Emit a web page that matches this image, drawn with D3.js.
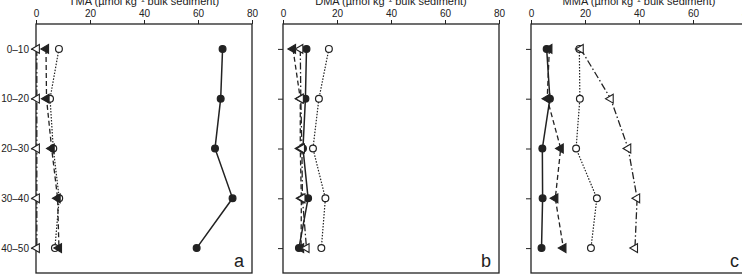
<!DOCTYPE html>
<html>
<head>
<meta charset="utf-8">
<script src="https://cdn.jsdelivr.net/npm/d3@7"></script>
<style>
  body { margin: 0; background: #fff; }
  text { font-family: "Liberation Sans", Arial, sans-serif; fill: #222; }
</style>
</head>
<body>
<script>
// depth intervals (cm)
const depths = ['0–10', '10–20', '20–30', '30–40', '40–50'];
const xTicks = [0, 20, 40, 60, 80];

// TMA
const tmaCircleFilled = [69.1, 68.4, 66.3, 72.8, 59.5];
const tmaCircleOpen = [8.5, 5.2, 6.4, 8.6, 7.0];
const tmaTriFilled = [3.7, 3.9, 5.8, 8.0, 8.5];
const tmaTriOpen = [0.3, 0.3, 0.3, 0.3, 0.3];

// DMA
const dmaCircleFilled = [8.7, 8.3, 7.4, 9.3, 5.9];
const dmaCircleOpen = [17.0, 13.3, 11.1, 15.7, 14.2];
const dmaTriFilled = [3.7, 6.4, 6.4, 6.8, 6.7];
const dmaTriOpen = [6.4, 6.6, 7.0, 7.2, 8.7];

// MMA
const mmaCircleFilled = [5.8, 7.0, 4.2, 4.3, 3.9];
const mmaCircleOpen = [17.9, 18.1, 16.7, 24.4, 22.2];
const mmaTriFilled = [6.8, 6.0, 11.0, 9.0, 12.0];
const mmaTriOpen = [18.4, 29.5, 36.0, 39.3, 38.5];

const panels = [
  {title: 'TMA', letter: 'a', left: 36, labels: true,
   series: [tmaCircleFilled, tmaCircleOpen, tmaTriFilled, tmaTriOpen]},
  {title: 'DMA', letter: 'b', left: 283, labels: false,
   series: [dmaCircleFilled, dmaCircleOpen, dmaTriFilled, dmaTriOpen]},
  {title: 'MMA', letter: 'c', left: 531, labels: false,
   series: [mmaCircleFilled, mmaCircleOpen, mmaTriFilled, mmaTriOpen]}
];

// marker / line style per series index
const styles = [
  {shape: 'circle', fill: '#222', dash: null, width: 1.5},
  {shape: 'circle', fill: '#fff', dash: '1.5,1.5', width: 1.2},
  {shape: 'tri', fill: '#222', dash: '5,3', width: 1.3},
  {shape: 'tri', fill: '#fff', dash: '7,2.5,1.5,2.5', width: 1.3}
];

const W = 742, H = 279;
const plotTop = 24, plotBottom = 273, pw = 216;

const svg = d3.select('body').append('svg')
    .attr('width', W)
    .attr('height', H);

const y = d3.scalePoint()
    .domain(depths)
    .range([plotTop, plotBottom])
    .padding(0.5);

const tri = d3.symbol().type(d3.symbolTriangle).size(34);

panels.forEach((p) => {
  const x = d3.scaleLinear().domain([0, 80]).range([p.left, p.left + pw]);
  const g = svg.append('g');

  // frame
  g.append('rect')
      .attr('x', p.left).attr('y', plotTop)
      .attr('width', pw).attr('height', plotBottom - plotTop)
      .attr('fill', 'none').attr('stroke', '#222').attr('stroke-width', 1.3);

  const xAxis = g.append('g')
      .attr('transform', `translate(0,${plotTop})`)
      .call(d3.axisTop(x).tickValues(xTicks).tickSize(4).tickPadding(3));
  xAxis.select('.domain').remove();
  xAxis.selectAll('line').attr('stroke', '#222');
  xAxis.selectAll('text').style('font-size', '10px').attr('fill', '#222');

  const yAxis = g.append('g')
      .attr('transform', `translate(${p.left},0)`)
      .call(d3.axisLeft(y).tickSize(5).tickPadding(2));
  yAxis.select('.domain').remove();
  yAxis.selectAll('line').attr('stroke', '#222');
  yAxis.selectAll('text').style('font-size', '10px').attr('fill', '#222');
  if (!p.labels) yAxis.selectAll('text').remove();

  g.append('text')
      .attr('x', p.left + pw / 2)
      .attr('y', 5)
      .attr('text-anchor', 'middle')
      .style('font-size', '11px')
      .text(p.title + ' (µmol kg⁻¹ bulk sediment)');

  g.append('text')
      .attr('x', p.left + pw - 8)
      .attr('y', plotBottom - 6)
      .attr('text-anchor', 'end')
      .style('font-size', '18px')
      .text(p.letter);

  const line = d3.line()
      .x((d) => x(d))
      .y((d, i) => y(depths[i]));

  p.series.forEach((s, k) => {
    const st = styles[k];
    g.append('path')
        .attr('d', line(s))
        .attr('fill', 'none')
        .attr('stroke', '#222')
        .attr('stroke-width', st.width)
        .attr('stroke-dasharray', st.dash);
  });

  p.series.forEach((s, k) => {
    const st = styles[k];
    const m = g.selectAll(null)
        .data(s)
        .enter();
    if (st.shape === 'circle') {
      m.append('circle')
          .attr('cx', (d) => x(d))
          .attr('cy', (d, i) => y(depths[i]))
          .attr('r', 3.4)
          .attr('fill', st.fill)
          .attr('stroke', '#222')
          .attr('stroke-width', 1.2);
    } else {
      m.append('path')
          .attr('d', tri)
          .attr('transform', (d, i) => `translate(${x(d)},${y(depths[i])}) rotate(-90)`)
          .attr('fill', st.fill)
          .attr('stroke', '#222')
          .attr('stroke-width', 1.1);
    }
  });
});
</script>
</body>
</html>
